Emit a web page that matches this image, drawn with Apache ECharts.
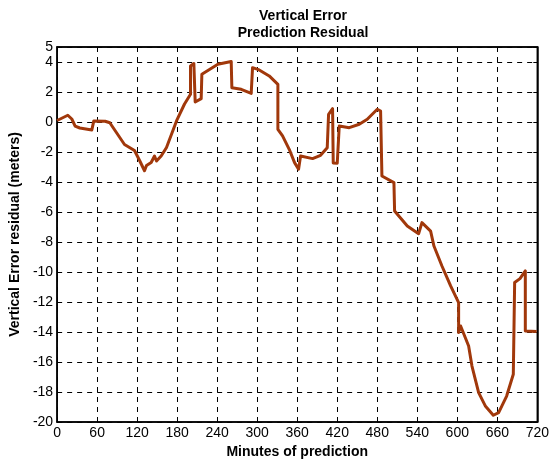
<!DOCTYPE html>
<html>
<head>
<meta charset="utf-8">
<script src="https://cdn.jsdelivr.net/npm/echarts@6/dist/echarts.min.js"></script>
<style>
  html, body { margin: 0; padding: 0; background: #fff; }
  #chart { width: 552px; height: 464px; }
</style>
</head>
<body>
<div id="chart"></div>
<script>
// values
const minutes = [0, 16, 22, 27, 34, 52, 54, 55, 72, 79, 101, 116, 124, 131, 134, 141, 146, 149, 156, 164, 179, 191, 200,
  200, 205, 207, 216, 217, 241, 261, 262, 276, 291, 293, 303, 318, 331, 331, 338, 348, 356, 362, 365, 383, 395, 405,
  407, 413, 414, 420, 423, 438, 453, 465, 480, 485, 487, 505, 506, 525, 542, 547, 560, 565, 577, 590, 602, 602, 605,
  617, 622, 632, 642, 654, 662, 674, 684, 686, 694, 702, 702, 719];
const residual = [0.1, 0.45, 0.2, -0.27, -0.4, -0.53, -0.53, 0.07, 0.05, -0.05, -1.5, -1.9, -2.6, -3.25, -2.9, -2.7, -2.27, -2.6,
  -2.27, -1.7, 0.07, 1.2, 1.85, 3.73, 3.9, 1.33, 1.56, 3.18, 3.85, 4.03, 2.29, 2.18, 1.91, 3.62, 3.47, 3.07, 2.51, -0.49,
  -0.93, -1.82, -2.71, -3.15, -2.27, -2.44, -2.22, -1.71, 0.51, 0.89, -2.73, -2.75, -0.27, -0.38, -0.15, 0.18, 0.85, 0.73,
  -3.6, -4.04, -5.93, -6.93, -7.45, -6.71, -7.27, -8.27, -9.6, -10.93, -12.04, -14.04, -13.6, -14.93, -16.27, -18.04, -18.93,
  -19.55, -19.37, -18.27, -16.82, -10.7, -10.44, -9.93, -13.93, -13.97];

const chart = echarts.init(document.getElementById('chart'), null, { renderer: 'canvas' });

const font = 'Arial, "Liberation Sans", Helvetica, sans-serif';
const gridLine = { show: true, lineStyle: { color: '#000', type: [5, 5], width: 1 } };
const frameLine = { show: true, onZero: false, lineStyle: { color: '#000', width: 1.5 } };
const tickIn = { show: true, inside: true, length: 4, lineStyle: { color: '#000', width: 1 } };

chart.setOption({
  backgroundColor: '#fff',
  animation: false,
  title: {
    text: 'Vertical Error\nPrediction Residual',
    left: 298,
    textAlign: 'center',
    top: 3,
    textStyle: { fontFamily: font, fontSize: 14, fontWeight: 'bold', color: '#000', lineHeight: 17 }
  },
  grid: { left: 57, right: 13, top: 47, bottom: 42, show: true, borderColor: '#000', borderWidth: 1.5 },
  xAxis: [{
    type: 'value',
    min: 0, max: 720, interval: 60,
    name: 'Minutes of prediction',
    nameLocation: 'middle',
    nameGap: 22,
    nameTextStyle: { fontFamily: font, fontSize: 14, fontWeight: 'bold', color: '#000' },
    axisLine: frameLine,
    axisTick: tickIn,
    splitLine: gridLine,
    axisLabel: { fontFamily: font, fontSize: 14, color: '#000', margin: 4 }
  }, {
    type: 'value', position: 'top',
    min: 0, max: 720, interval: 60,
    axisLine: frameLine, axisTick: tickIn, axisLabel: { show: false }, splitLine: { show: false }
  }],
  yAxis: [{
    type: 'value',
    min: -20, max: 5, interval: 2,
    name: 'Vertical Error residual (meters)',
    nameLocation: 'middle',
    nameGap: 32,
    nameTextStyle: { fontFamily: font, fontSize: 14, fontWeight: 'bold', color: '#000' },
    axisLine: frameLine,
    axisTick: tickIn,
    splitLine: gridLine,
    axisLabel: { fontFamily: font, fontSize: 14, color: '#000', margin: 4 }
  }, {
    type: 'value', position: 'right',
    min: -20, max: 5, interval: 2,
    axisLine: frameLine, axisTick: tickIn, axisLabel: { show: false }, splitLine: { show: false }
  }],
  series: [{
    type: 'line',
    data: minutes.map((m, i) => [m, residual[i]]),
    showSymbol: false,
    lineStyle: { color: '#A1380B', width: 3, join: 'round' },
    itemStyle: { color: '#A1380B' }
  }]
});
</script>
</body>
</html>
